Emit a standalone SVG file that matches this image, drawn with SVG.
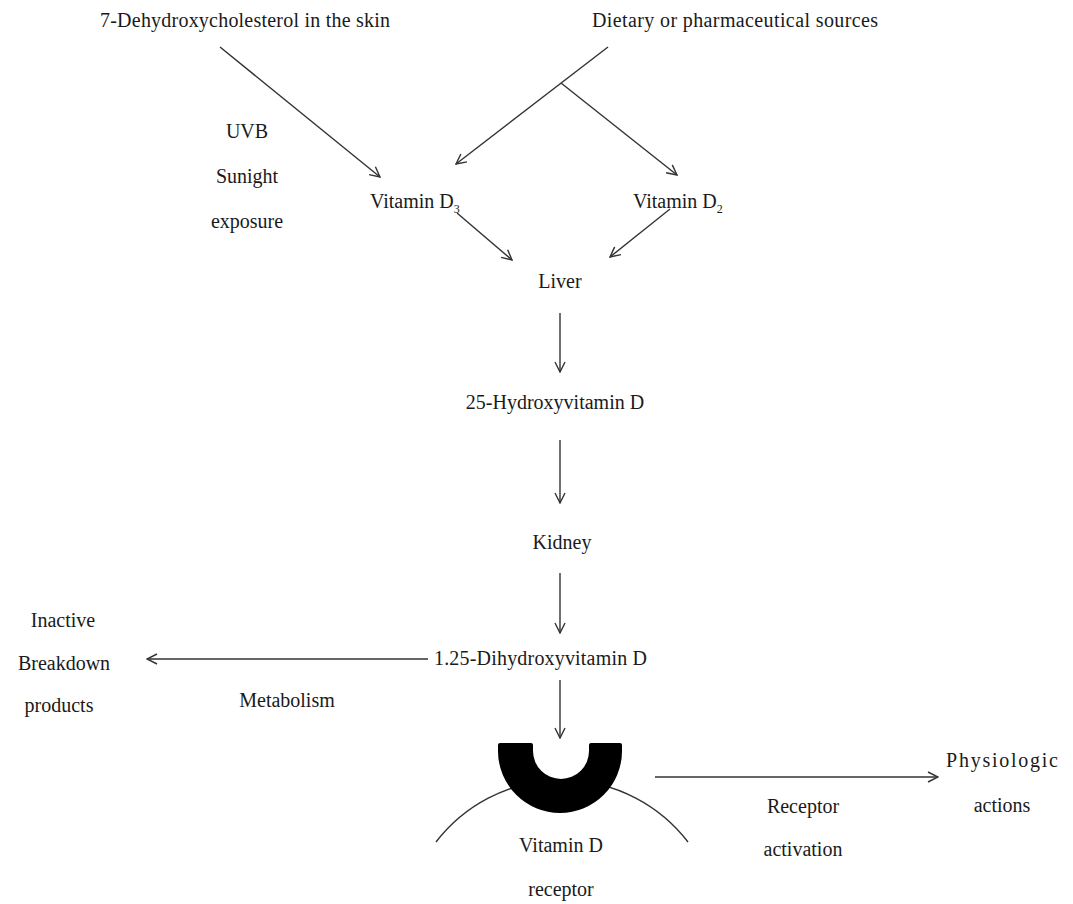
<svg xmlns="http://www.w3.org/2000/svg" width="1073" height="904" viewBox="0 0 1073 904">
<defs>
<style>
text{font-family:"Liberation Serif","Times New Roman",serif;font-size:20px;fill:#1a1a1a;}
.c{text-anchor:middle;}
.ln{stroke:#333;stroke-width:1.4;fill:none;}
</style>
<marker id="ah" viewBox="0 0 12 12" refX="11" refY="6" markerWidth="12" markerHeight="12" markerUnits="userSpaceOnUse" orient="auto">
<path d="M1,1 L11,6 L1,11" fill="none" stroke="#333" stroke-width="1.4"/>
</marker>
</defs>
<rect width="1073" height="904" fill="#fff"/>
<g id="connectors">
<line class="ln" x1="220" y1="47" x2="380" y2="177" marker-end="url(#ah)"/>
<line class="ln" x1="608" y1="47" x2="456" y2="164" marker-end="url(#ah)"/>
<line class="ln" x1="561" y1="83" x2="677" y2="175" marker-end="url(#ah)"/>
<line class="ln" x1="457" y1="213" x2="512" y2="260" marker-end="url(#ah)"/>
<line class="ln" x1="670" y1="209" x2="610" y2="257" marker-end="url(#ah)"/>
<line class="ln" x1="560" y1="313" x2="560" y2="372" marker-end="url(#ah)"/>
<line class="ln" x1="560" y1="440" x2="560" y2="503" marker-end="url(#ah)"/>
<line class="ln" x1="560" y1="573" x2="560" y2="633" marker-end="url(#ah)"/>
<line class="ln" x1="560" y1="680" x2="560" y2="738" marker-end="url(#ah)"/>
<line class="ln" x1="428" y1="659" x2="147" y2="659" marker-end="url(#ah)"/>
<line class="ln" x1="655" y1="777" x2="938" y2="777" marker-end="url(#ah)"/>
</g>
<g id="skin"><text x="100" y="27" textLength="290">7-Dehydroxycholesterol in the skin</text></g>
<g id="dietary"><text x="592" y="27" textLength="286">Dietary or pharmaceutical  sources</text></g>
<g id="uvb">
<text x="247" y="138" class="c">UVB</text>
<text x="247" y="183" class="c">Sunight</text>
<text x="247" y="228" class="c">exposure</text>
</g>
<g id="vitd3"><text x="370" y="208">Vitamin D<tspan font-size="12" dy="5">3</tspan></text></g>
<g id="vitd2"><text x="633" y="208">Vitamin D<tspan font-size="12" dy="5">2</tspan></text></g>
<g id="liver"><text x="560" y="288" class="c">Liver</text></g>
<g id="hydroxy25"><text x="555" y="409" class="c">25-Hydroxyvitamin D</text></g>
<g id="kidney"><text x="562" y="549" class="c">Kidney</text></g>
<g id="dihydroxy"><text x="434" y="665" textLength="213">1.25-Dihydroxyvitamin D</text></g>
<g id="inactive">
<text x="63" y="627" class="c">Inactive</text>
<text x="64" y="670" class="c">Breakdown</text>
<text x="59" y="712" class="c">products</text>
</g>
<g id="metabolism"><text x="287" y="707" class="c">Metabolism</text></g>
<g id="receptor">
<path class="ln" d="M436,842 A159,159 0 0 1 688,842"/>
<path d="M498,745 Q498,743 500,743 L531,743 Q533,743 533,745 L533,751 A28,28 0 0 0 589,751 L589,745 Q589,743 591,743 L620,743 Q622,743 622,745 L622,751 A62,62 0 0 1 498,751 Z" fill="#000"/>
<text x="561" y="852" class="c">Vitamin D</text>
<text x="561" y="896" class="c">receptor</text>
</g>
<g id="activation">
<text x="803" y="813" class="c">Receptor</text>
<text x="803" y="856" class="c">activation</text>
</g>
<g id="physiologic">
<text x="1002" y="767" class="c" textLength="112">Physiologic</text>
<text x="1002" y="812" class="c">actions</text>
</g>
</svg>
